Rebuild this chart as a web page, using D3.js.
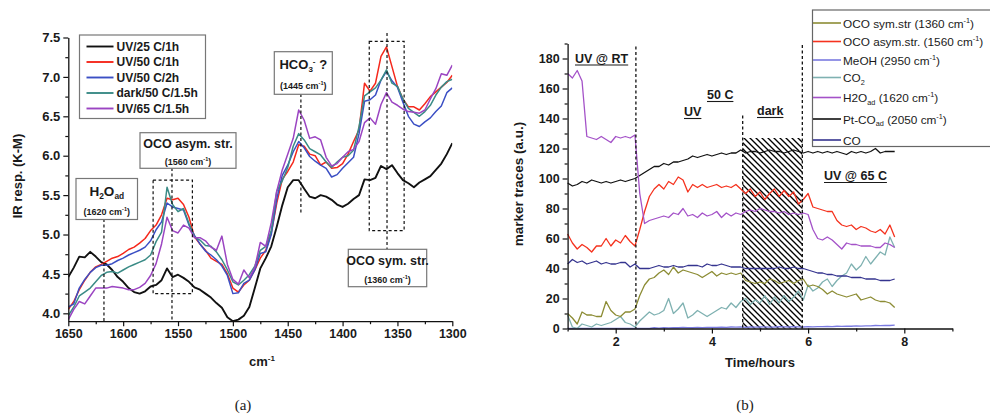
<!DOCTYPE html>
<html><head><meta charset="utf-8">
<script src="https://cdn.jsdelivr.net/npm/d3@7"></script>
<style>
body{margin:0;background:#fff}
text{font-family:"Liberation Sans",Arial,sans-serif;fill:#1a1a1a}
</style>
</head><body>
<svg id="c" width="990" height="419" xmlns="http://www.w3.org/2000/svg"></svg>
<script>
// ---------------- Panel (a) data ----------------
const wavenumbers = [1650,1645,1640,1635,1630,1625,1620,1615,1610,1605,
 1600,1595,1590,1585,1580,1575,1570,1565,1560,1555,
 1550,1545,1540,1535,1530,1525,1520,1515,1510,1505,
 1500,1495,1490,1485,1480,1475,1470,1465,1460,1455,
 1450,1445,1440,1435,1430,1425,1420,1415,1410,1405,
 1400,1395,1390,1385,1380,1375,1370,1365,1360,1355,
 1350,1345,1340,1335,1330,1325,1320,1315,1310,1305,
 1300];
const uv25_1h = [4.46,4.58,4.72,4.71,4.78,4.72,4.65,4.62,4.55,4.46,
 4.40,4.32,4.27,4.25,4.28,4.34,4.36,4.42,4.57,4.46,
 4.49,4.45,4.40,4.33,4.30,4.25,4.20,4.13,4.07,3.95,
 3.90,3.92,3.97,4.08,4.32,4.57,4.70,4.85,5.10,5.37,
 5.60,5.69,5.69,5.58,5.48,5.46,5.50,5.48,5.44,5.38,
 5.35,5.39,5.45,5.50,5.70,5.69,5.72,5.87,5.83,5.88,
 5.78,5.69,5.65,5.60,5.66,5.70,5.74,5.82,5.90,6.02,
 6.16];
const uv50_1h = [4.05,4.15,4.30,4.42,4.52,4.59,4.62,4.66,4.70,4.72,
 4.76,4.81,4.84,4.89,4.95,5.05,5.12,5.25,5.46,5.44,
 5.46,5.38,5.22,4.97,4.88,4.80,4.70,4.66,4.62,4.50,
 4.32,4.27,4.36,4.42,4.55,4.70,4.80,5.02,5.40,5.70,
 5.80,5.92,6.14,6.12,6.02,6.00,5.88,5.92,5.84,5.85,
 5.90,6.02,6.18,6.33,6.92,6.82,6.92,7.26,7.38,7.13,
 6.88,6.72,6.62,6.62,6.58,6.66,6.75,6.81,6.87,6.93,
 7.02];
const uv50_2h = [4.08,4.12,4.32,4.43,4.52,4.58,4.61,4.61,4.63,4.67,
 4.70,4.74,4.77,4.80,4.84,4.92,5.06,5.16,5.40,5.35,
 5.33,5.31,5.12,4.99,4.88,4.79,4.74,4.68,4.60,4.48,
 4.25,4.26,4.38,4.42,4.55,4.76,4.78,5.00,5.45,5.75,
 5.88,6.05,6.18,6.10,5.99,5.93,5.88,5.84,5.73,5.76,
 5.84,5.91,5.98,6.28,6.69,6.71,6.77,6.96,7.07,6.95,
 6.87,6.68,6.50,6.40,6.37,6.43,6.48,6.56,6.63,6.80,
 6.86];
const dark50_15h = [3.97,4.08,4.22,4.27,4.32,4.40,4.48,4.52,4.53,4.51,
 4.55,4.59,4.62,4.65,4.68,4.74,4.91,5.03,5.60,5.38,
 5.29,5.33,5.14,4.97,4.93,4.86,4.85,4.78,4.68,4.55,
 4.40,4.36,4.42,4.49,4.60,4.80,4.85,5.05,5.55,5.68,
 5.85,6.12,6.28,6.20,6.09,6.05,6.01,5.92,5.85,5.92,
 5.98,6.00,6.07,6.37,6.76,6.81,6.86,6.96,7.09,6.92,
 6.88,6.72,6.60,6.55,6.50,6.56,6.64,6.77,6.87,6.94,
 6.97];
const uv65_15h = [3.92,4.05,4.15,4.12,4.22,4.32,4.32,4.32,4.34,4.33,
 4.32,4.30,4.30,4.33,4.38,4.48,4.63,4.88,5.22,5.05,
 5.02,5.12,5.08,4.96,4.96,4.92,4.84,4.80,4.98,4.62,
 4.43,4.37,4.55,4.45,4.58,4.90,4.85,5.15,5.55,5.82,
 6.02,6.22,6.58,6.45,6.22,6.24,6.20,5.98,5.87,5.90,
 5.98,6.05,6.08,6.18,6.42,6.48,6.40,6.65,6.80,6.68,
 6.64,6.59,6.56,6.55,6.54,6.58,6.72,6.85,7.04,7.02,
 7.15];
const seriesA = ["UV/25 C/1h","UV/50 C/1h","UV/50 C/2h","dark/50 C/1.5h","UV/65 C/1.5h"];
const xTicksA = [1650,1600,1550,1500,1450,1400,1350,1300];
const yTicksA = [4.0,4.5,5.0,5.5,6.0,6.5,7.0,7.5];

// ---------------- Panel (b) data ----------------
const hours = [1.0,1.1,1.2,1.3,1.4,1.5,1.6,1.7,1.8,1.9,
 2.0,2.1,2.2,2.3,2.4,2.5,2.6,2.7,2.8,2.9,
 3.0,3.1,3.2,3.3,3.4,3.5,3.6,3.7,3.8,3.9,
 4.0,4.1,4.2,4.3,4.4,4.5,4.6,4.7,4.8,4.9,
 5.0,5.1,5.2,5.3,5.4,5.5,5.6,5.7,5.8,5.9,
 6.0,6.1,6.2,6.3,6.4,6.5,6.6,6.7,6.8,6.9,
 7.0,7.1,7.2,7.3,7.4,7.5,7.6,7.7,7.8];
const ocoSym = [10,7,3,11,9,9,8,8,18,12, 9,8,11,11,13,22,29,33,34,37,
 39,36,41,37,39,38,37,36,34,36, 38,35,37,36,37,36,37,32,31,30,
 31,30,33,32,30,31,32,30,32,33, 28,29,28,26,23,25,23,22,21,22,
 23,19,20,21,19,18,18,17,14];
const ocoAsym = [63,57,53,56,54,51,55,55,60,55, 59,57,62,58,55,66,78,88,93,96,
 93,98,96,101,99,91,96,94,96,94, 95,96,94,95,94,96,93,90,93,88,
 91,86,90,93,88,92,88,91,83,86, 90,81,80,79,78,78,72,69,68,69,
 66,68,67,65,64,66,63,69,61];
const meoh = [0,0,0,0,0,0,0,0,0,0, 0,0,0,0,0,0,0,0,0.5,0.3,
 0.5,0.4,0.6,0.5,0.7,0.6,0.5,0.8,0.6,0.7, 0.8,0.7,0.9,0.8,1.0,0.9,1.0,0.8,1.0,0.9,
 1.0,1.1,0.9,1.0,1.2,1.1,1.0,1.2,1.1,1.0, 1.2,1.1,1.3,1.2,1.4,1.3,1.5,1.4,1.6,1.5,
 1.7,1.6,1.8,1.7,2.0,1.9,2.1,2.0,2.2];
const co2 = [9,1,0,3,2,1,3,2,3,4, 6,8,4,3,1,5,8,11,9,10,
 12,20,10,13,17,7,9,12,10,8, 10,12,14,13,17,14,18,20,16,19,
 17,22,16,21,17,22,18,21,25,19, 29,25,27,31,33,28,32,35,37,43,
 39,42,48,43,47,51,49,61,54];
const h2oAd = [170,167,172,165,128,127,126,128,126,124, 128,127,128,127,129,90,70,72,73,74,
 75,74,77,76,80,75,76,74,77,75, 76,78,74,77,75,77,76,78,79,78,
 80,79,78,78,77,78,76,77,76,77, 76,66,60,59,61,59,56,53,57,56,
 56,55,55,55,54,54,57,56,54];
const ptCO = [97,95,96,98,97,99,98,97,98,97, 98,99,98,99,100,102,104,106,108,108,
 110,109,111,111,112,113,115,114,115,116, 115,116,117,116,117,117,119,117,118,118,
 117,118,119,118,118,117,118,119,118,117, 118,117,118,117,118,117,118,117,116,118,
 117,118,117,118,120,117,118,118,118];
const co = [43,46,44,45,43,44,45,43,44,43, 43,44,44,41,43,40,40,40,41,42,
 41,41,42,41,41,42,42,42,41,43, 42,42,43,42,41,41,41,40,40,40,
 40,40,40,40,41,40,40,41,40,40, 39,38,37,37,36,36,35,35,35,34,
 34,34,33,33,33,32,32,32,33];
const xTicksB = [2,4,6,8];
const yTicksB = [0,20,40,60,80,100,120,140,160,180];
const phaseLines = [2.42,4.64,5.88];

// ---------------- drawing ----------------
const svg = d3.select('#c');
const FONT = '"Liberation Sans",Arial,sans-serif';

function rich(g, x, y, segs, size, opts) {
  opts = opts || {};
  const t = g.append('text').attr('x', x).attr('y', y)
    .attr('font-size', size).attr('font-weight', opts.weight || 'bold')
    .attr('text-anchor', opts.anchor || 'middle');
  let off = 0;
  segs.forEach(s => {
    let target = 0, fs = size, txt = s;
    if (typeof s !== 'string') {
      txt = s.t; fs = size * 0.62;
      target = s.sup ? -size * 0.42 : size * 0.25;
    }
    t.append('tspan').attr('dy', target - off).attr('font-size', fs).text(txt);
    off = target;
  });
  return t;
}

// ===== Panel (a) =====
const xA = d3.scaleLinear().domain([1650, 1300]).range([68.3, 452.3]);
const yA = d3.scaleLinear().domain([3.9, 7.5]).range([321.2, 37.5]);
const colorsA = ["#111111", "#f5281c", "#3b4fc4", "#3a8b86", "#9b45c2"];
const dataA = [uv25_1h, uv50_1h, uv50_2h, dark50_15h, uv65_15h];

svg.append('clipPath').attr('id', 'clipA').append('rect')
  .attr('x', xA(1650)).attr('y', yA(7.5) - 2).attr('width', xA(1300) - xA(1650)).attr('height', yA(3.9) - yA(7.5) + 2);

const gA = svg.append('g');
const lineA = vals => d3.line().x((d, i) => xA(wavenumbers[i])).y(d => yA(d))(vals);
dataA.forEach((vals, k) => {
  gA.append('path').attr('d', lineA(vals)).attr('fill', 'none')
    .attr('stroke', colorsA[k]).attr('stroke-width', k === 0 ? 1.9 : 1.5)
    .attr('stroke-linejoin', 'round').attr('clip-path', 'url(#clipA)');
});

function styleAxis(g, fs) {
  g.selectAll('path.domain').attr('stroke', '#111').attr('stroke-width', 1.3);
  g.selectAll('line').attr('stroke', '#111').attr('stroke-width', 1.2);
  g.selectAll('text').attr('font-family', FONT).attr('font-weight', 'bold').attr('font-size', fs).attr('fill', '#1a1a1a');
}
const axXA = svg.append('g').attr('transform', `translate(0,${yA(3.9)})`)
  .call(d3.axisBottom(xA).tickValues(xTicksA).tickFormat(d3.format('d')).tickSize(5).tickSizeOuter(0).tickPadding(3));
styleAxis(axXA, 12.5);
const axXAm = svg.append('g').attr('transform', `translate(0,${yA(3.9)})`)
  .call(d3.axisBottom(xA).tickValues(d3.range(1625, 1300, -50)).tickFormat('').tickSize(3).tickSizeOuter(0));
styleAxis(axXAm, 12); axXAm.select('path.domain').remove();
const axYA = svg.append('g').attr('transform', `translate(${xA(1650)},0)`)
  .call(d3.axisLeft(yA).tickValues(yTicksA).tickFormat(d3.format('.1f')).tickSize(5).tickSizeOuter(0).tickPadding(3));
styleAxis(axYA, 13);
const axYAm = svg.append('g').attr('transform', `translate(${xA(1650)},0)`)
  .call(d3.axisLeft(yA).tickValues(d3.range(4.25, 7.5, 0.5)).tickFormat('').tickSize(3).tickSizeOuter(0));
styleAxis(axYAm, 12); axYAm.select('path.domain').remove();

svg.append('text').attr('transform', 'translate(22,176) rotate(-90)').attr('text-anchor', 'middle')
  .attr('font-size', 13).attr('font-weight', 'bold').text('IR resp. (K-M)');
rich(svg, 262, 366, ['cm', {t: '-1', sup: true}], 13);

// legend (a)
const legA = svg.append('g');
legA.append('rect').attr('x', 79.5).attr('y', 35).attr('width', 126).attr('height', 83.5)
  .attr('fill', '#fff').attr('stroke', '#777').attr('stroke-width', 1.2);
seriesA.forEach((name, k) => {
  const yy = 46.5 + k * 15.5;
  legA.append('line').attr('x1', 86.5).attr('x2', 113.5).attr('y1', yy).attr('y2', yy)
    .attr('stroke', colorsA[k]).attr('stroke-width', 1.9);
  legA.append('text').attr('x', 116.5).attr('y', yy + 4.3).attr('font-size', 12).attr('font-weight', 'bold').text(name);
});

// annotations (a)
const ann = svg.append('g');
function box(x, y, w, h) {
  ann.append('rect').attr('x', x).attr('y', y).attr('width', w).attr('height', h)
    .attr('fill', '#fff').attr('stroke', '#777').attr('stroke-width', 1.2);
}
function dash(x1, y1, x2, y2) {
  ann.append('line').attr('x1', x1).attr('y1', y1).attr('x2', x2).attr('y2', y2)
    .attr('stroke', '#111').attr('stroke-width', 1.2).attr('stroke-dasharray', '3,2.5');
}
function dashRect(x1, y1, x2, y2) {
  ann.append('rect').attr('x', x1).attr('y', y1).attr('width', x2 - x1).attr('height', y2 - y1)
    .attr('fill', 'none').attr('stroke', '#111').attr('stroke-width', 1.2).attr('stroke-dasharray', '3,2.5');
}
dashRect(xA(1572.7), yA(5.69), xA(1536.9), yA(4.25));
dashRect(xA(1375.7), yA(7.45), xA(1343.9), yA(5.05));
dash(xA(1617.5), 219, xA(1617.5), yA(3.9));
dash(xA(1555.5), 168, xA(1555.5), yA(3.9));
dash(xA(1438), 94, xA(1438), yA(5.27));
dash(xA(1359.5), 33, xA(1359.5), 249);

box(76, 178.5, 61.5, 41);
rich(ann, 106.8, 196, ['H', {t: '2'}, 'O', {t: 'ad'}], 13.5);
rich(ann, 106.8, 215, ['(1620 cm', {t: '-1', sup: true}, ')'], 9);

box(140, 132.7, 96, 35.6);
rich(ann, 188, 148, ['OCO asym. str.'], 12.5);
rich(ann, 188, 165, ['(1560 cm', {t: '-1', sup: true}, ')'], 9);

box(274.3, 51.7, 58, 42.6);
rich(ann, 303.3, 69, ['HCO', {t: '3'}, {t: '-', sup: true}, ' ?'], 13);
rich(ann, 303.3, 89, ['(1445 cm', {t: '-1', sup: true}, ')'], 9);

box(348.3, 249.3, 78.4, 37.4);
rich(ann, 387.5, 265, ['OCO sym. str.'], 12.5);
rich(ann, 387.5, 283, ['(1360 cm', {t: '-1', sup: true}, ')'], 9);

svg.append('text').attr('x', 243).attr('y', 410).attr('text-anchor', 'middle')
  .attr('font-size', 15).attr('fill', '#333')
  .style('font-family', '"Liberation Serif",serif').text('(a)');

// ===== Panel (b) =====
const xB = d3.scaleLinear().domain([1, 9]).range([567.6, 952.4]);
const yB = d3.scaleLinear().domain([0, 190]).range([328.5, 43.5]);

const defs = svg.append('defs');
const pat = defs.append('pattern').attr('id', 'hatch').attr('patternUnits', 'userSpaceOnUse')
  .attr('width', 6).attr('height', 6);
pat.append('path').attr('d', 'M-1,-1 L7,7 M-1,5 L1,7 M5,-1 L7,1')
  .attr('stroke', '#000').attr('stroke-width', 1.35);

const gB = svg.append('g');
gB.append('rect').attr('x', xB(4.64)).attr('y', yB(127)).attr('width', xB(5.88) - xB(4.64))
  .attr('height', yB(0) - yB(127)).attr('fill', 'url(#hatch)');

const seriesB = [
  {name: ['OCO sym.str (1360 cm', {t: '-1', sup: true}, ')'], vals: ocoSym, color: '#8c8c34'},
  {name: ['OCO asym.str. (1560 cm', {t: '-1', sup: true}, ')'], vals: ocoAsym, color: '#f5321e'},
  {name: ['MeOH (2950 cm', {t: '-1', sup: true}, ')'], vals: meoh, color: '#7a7ae0'},
  {name: ['CO', {t: '2'}], vals: co2, color: '#7fb1b1'},
  {name: ['H2O', {t: 'ad'}, ' (1620 cm', {t: '-1', sup: true}, ')'], vals: h2oAd, color: '#a452c8'},
  {name: ['Pt-CO', {t: 'ad'}, ' (2050 cm', {t: '-1', sup: true}, ')'], vals: ptCO, color: '#111111'},
  {name: ['CO'], vals: co, color: '#35348f'}
];
const lineB = vals => d3.line().x((d, i) => xB(hours[i])).y(d => yB(d))(vals);
const drawOrder = [2, 3, 0, 6, 5, 1, 4];
drawOrder.forEach(k => {
  gB.append('path').attr('d', lineB(seriesB[k].vals)).attr('fill', 'none')
    .attr('stroke', seriesB[k].color).attr('stroke-width', 1.3).attr('stroke-linejoin', 'round');
});

const topVals = [188, 142, 189];
phaseLines.forEach((t, i) => {
  gB.append('line').attr('x1', xB(t)).attr('x2', xB(t)).attr('y1', yB(topVals[i])).attr('y2', yB(0))
    .attr('stroke', '#111').attr('stroke-width', 1.3).attr('stroke-dasharray', '3,2.5');
});

const axXB = svg.append('g').attr('transform', `translate(0,${yB(0)})`)
  .call(d3.axisBottom(xB).tickValues(xTicksB).tickFormat(d3.format('d')).tickSize(5).tickSizeOuter(0).tickPadding(4));
styleAxis(axXB, 12.5);
const axXBm = svg.append('g').attr('transform', `translate(0,${yB(0)})`)
  .call(d3.axisBottom(xB).tickValues([1, 3, 5, 7, 9]).tickFormat('').tickSize(3).tickSizeOuter(0));
styleAxis(axXBm, 12); axXBm.select('path.domain').remove();
const axYB = svg.append('g').attr('transform', `translate(${xB(1)},0)`)
  .call(d3.axisLeft(yB).tickValues(yTicksB).tickFormat(d3.format('d')).tickSize(5).tickSizeOuter(0).tickPadding(3));
styleAxis(axYB, 12.5);
const axYBm = svg.append('g').attr('transform', `translate(${xB(1)},0)`)
  .call(d3.axisLeft(yB).tickValues(d3.range(10, 191, 20)).tickFormat('').tickSize(3).tickSizeOuter(0));
styleAxis(axYBm, 12); axYBm.select('path.domain').remove();

svg.append('text').attr('transform', 'translate(523,184) rotate(-90)').attr('text-anchor', 'middle')
  .attr('font-size', 13.5).attr('font-weight', 'bold').text('marker traces (a.u.)');
svg.append('text').attr('x', 760).attr('y', 367).attr('text-anchor', 'middle')
  .attr('font-size', 13).attr('font-weight', 'bold').text('Time/hours');

function ulabel(x, y, txt) {
  const t = svg.append('text').attr('x', x).attr('y', y).attr('font-size', 12.5).attr('font-weight', 'bold').text(txt);
  const w = t.node().getComputedTextLength();
  svg.append('line').attr('x1', x).attr('x2', x + w).attr('y1', y + 2.5).attr('y2', y + 2.5)
    .attr('stroke', '#1a1a1a').attr('stroke-width', 1.1);
}
ulabel(575, 62.5, 'UV @ RT');
ulabel(707, 99, '50 C');
ulabel(684, 116, 'UV');
ulabel(757, 115, 'dark');
ulabel(824, 180, 'UV @ 65 C');

// legend (b)
const legB = svg.append('g');
legB.append('rect').attr('x', 812.5).attr('y', 10).attr('width', 200).attr('height', 136.5)
  .attr('fill', '#fff').attr('stroke', '#666').attr('stroke-width', 1.2);
const rowY = [23, 41.5, 60, 77.5, 97.5, 119, 140];
seriesB.forEach((s, k) => {
  legB.append('line').attr('x1', 813).attr('x2', 841).attr('y1', rowY[k]).attr('y2', rowY[k])
    .attr('stroke', s.color).attr('stroke-width', 1.6);
  rich(legB, 843, rowY[k] + 4.5, s.name, 11.8, {anchor: 'start', weight: 'normal'});
});

svg.append('text').attr('x', 745).attr('y', 410).attr('text-anchor', 'middle')
  .attr('font-size', 15).attr('fill', '#333').style('font-family', '"Liberation Serif",serif').text('(b)');
</script>
</body></html>
